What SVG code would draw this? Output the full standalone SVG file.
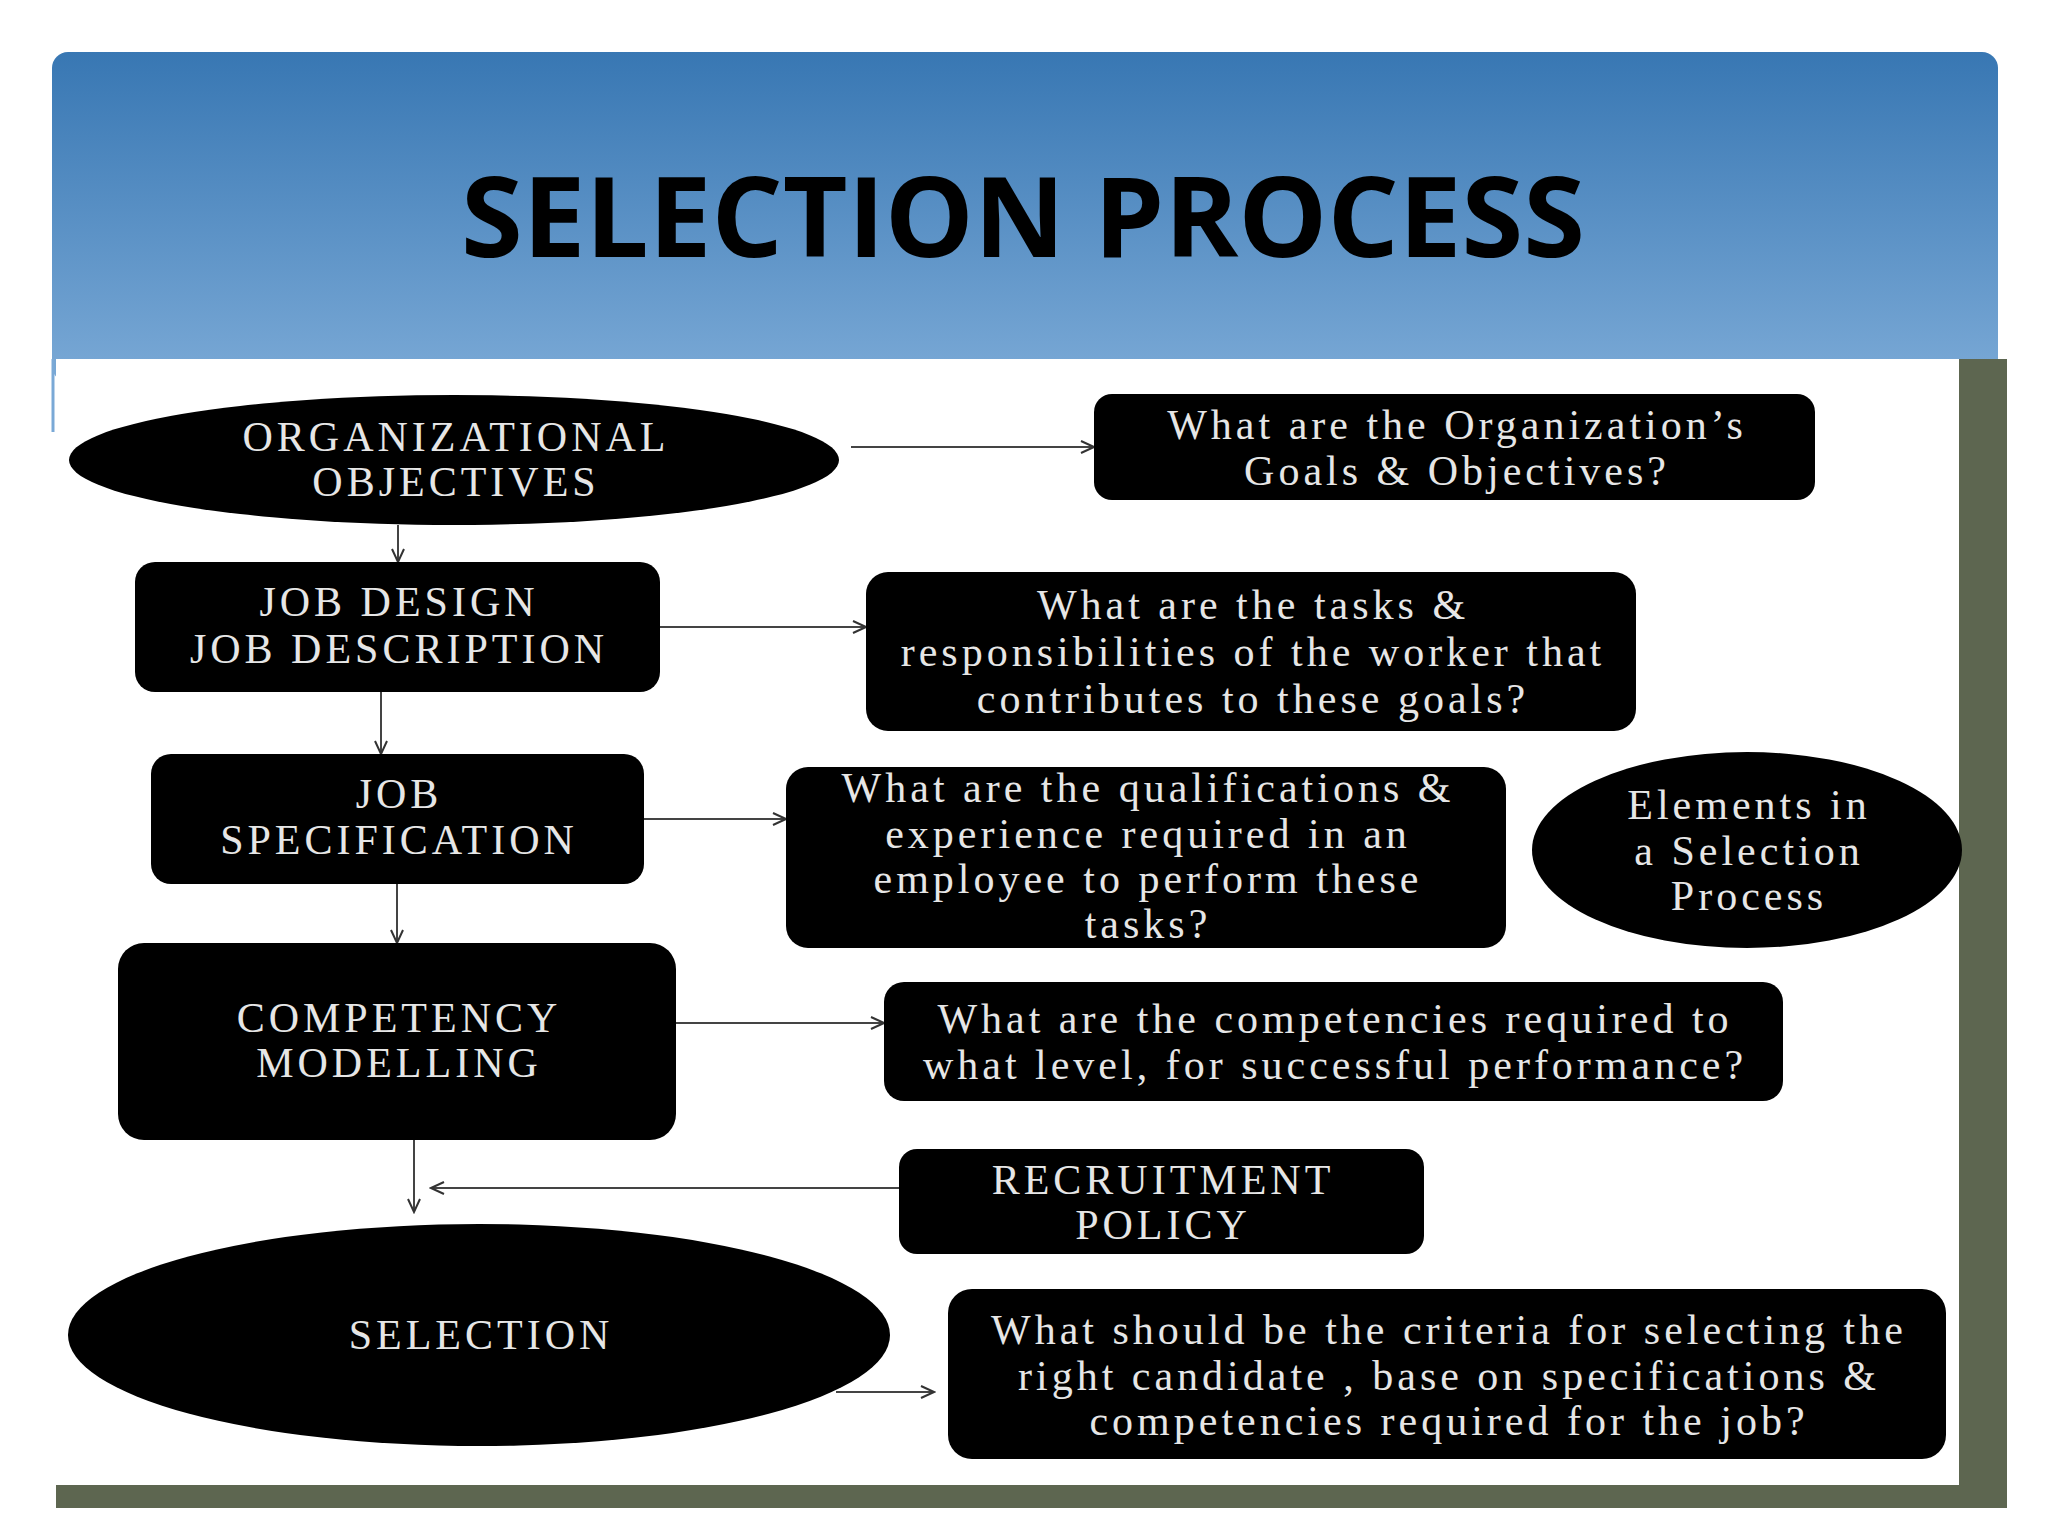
<svg xmlns="http://www.w3.org/2000/svg" width="2048" height="1536" viewBox="0 0 2048 1536">
<defs>
<linearGradient id="hg" x1="0" y1="0" x2="0" y2="1"><stop offset="0" stop-color="#3877b3"/><stop offset="1" stop-color="#7aa9d6"/></linearGradient>
<marker id="ah" markerWidth="16" markerHeight="14" refX="14" refY="7" orient="auto" markerUnits="userSpaceOnUse"><path d="M1,1 L14,7 L1,13" fill="none" stroke="#333" stroke-width="2"/></marker>
</defs>
<style>
.n{fill:#000}
.t{font-family:"Liberation Serif","DejaVu Serif",serif;font-size:42px;letter-spacing:4px;fill:#e6e6e6;text-anchor:middle}
.c{stroke:#444;stroke-width:2;fill:none;marker-end:url(#ah)}
</style>
<rect width="2048" height="1536" fill="#fff"/>
<rect x="52" y="52" width="1946" height="330" rx="16" fill="url(#hg)"/>
<rect x="1959" y="359" width="48" height="1149" fill="#5d6650"/>
<rect x="56" y="1485" width="1951" height="23" fill="#5d6650"/>
<rect x="56" y="359" width="1903" height="1126" fill="#fff"/>
<line x1="53" y1="359" x2="53" y2="432" stroke="#7aa9d6" stroke-width="3"/>
<text x="1023" y="257" font-family="'Open Sans','DejaVu Sans',sans-serif" font-weight="bold" font-size="112" text-anchor="middle" fill="#000">SELECTION PROCESS</text>
<g id="connectors">
<line class="c" x1="851" y1="447" x2="1094" y2="447"/>
<line class="c" x1="398" y1="525" x2="398" y2="562"/>
<line class="c" x1="660" y1="627" x2="866" y2="627"/>
<line class="c" x1="381" y1="692" x2="381" y2="754"/>
<line class="c" x1="644" y1="819" x2="786" y2="819"/>
<line class="c" x1="397" y1="884" x2="397" y2="943"/>
<line class="c" x1="676" y1="1023" x2="884" y2="1023"/>
<line class="c" x1="414" y1="1140" x2="414" y2="1212"/>
<line class="c" x1="899" y1="1188" x2="431" y2="1188"/>
<line class="c" x1="836" y1="1392" x2="934" y2="1392"/>
</g>
<g id="org"><ellipse class="n" cx="454" cy="460" rx="385" ry="65"/><text class="t" x="456" y="451">ORGANIZATIONAL</text><text class="t" x="456" y="496">OBJECTIVES</text></g>
<g id="q1"><rect class="n" x="1094" y="394" width="721" height="106" rx="18"/><text class="t" x="1457" y="439">What are the Organization’s</text><text class="t" x="1457" y="485">Goals &amp; Objectives?</text></g>
<g id="jobdesign"><rect class="n" x="135" y="562" width="525" height="130" rx="20"/><text class="t" x="399" y="616">JOB DESIGN</text><text class="t" x="399" y="663">JOB DESCRIPTION</text></g>
<g id="q2"><rect class="n" x="866" y="572" width="770" height="159" rx="22"/><text class="t" x="1253" y="619">What are the tasks &amp;</text><text class="t" x="1253" y="666">responsibilities of the worker that</text><text class="t" x="1253" y="713">contributes to these goals?</text></g>
<g id="jobspec"><rect class="n" x="151" y="754" width="493" height="130" rx="20"/><text class="t" x="399" y="808">JOB</text><text class="t" x="399" y="854">SPECIFICATION</text></g>
<g id="q3"><rect class="n" x="786" y="767" width="720" height="181" rx="22"/><text class="t" x="1148" y="802">What are the qualifications &amp;</text><text class="t" x="1148" y="848">experience required in an</text><text class="t" x="1148" y="893">employee to perform these</text><text class="t" x="1148" y="938">tasks?</text></g>
<g id="elements"><ellipse class="n" cx="1747" cy="850" rx="215" ry="98"/><text class="t" x="1749" y="819">Elements in</text><text class="t" x="1749" y="865">a Selection</text><text class="t" x="1749" y="910">Process</text></g>
<g id="competency"><rect class="n" x="118" y="943" width="558" height="197" rx="26"/><text class="t" x="399" y="1032">COMPETENCY</text><text class="t" x="399" y="1077">MODELLING</text></g>
<g id="q4"><rect class="n" x="884" y="982" width="899" height="119" rx="20"/><text class="t" x="1335" y="1033">What are the competencies required to</text><text class="t" x="1335" y="1079">what level, for successful performance?</text></g>
<g id="recruitment"><rect class="n" x="899" y="1149" width="525" height="105" rx="18"/><text class="t" x="1163" y="1194">RECRUITMENT</text><text class="t" x="1163" y="1239">POLICY</text></g>
<g id="selection"><ellipse class="n" cx="479" cy="1335" rx="411" ry="111"/><text class="t" x="481" y="1349">SELECTION</text></g>
<g id="q5"><rect class="n" x="948" y="1289" width="998" height="170" rx="24"/><text class="t" x="1449" y="1344">What should be the criteria for selecting the</text><text class="t" x="1449" y="1390">right candidate , base on specifications &amp;</text><text class="t" x="1449" y="1435">competencies required for the job?</text></g>
</svg>
